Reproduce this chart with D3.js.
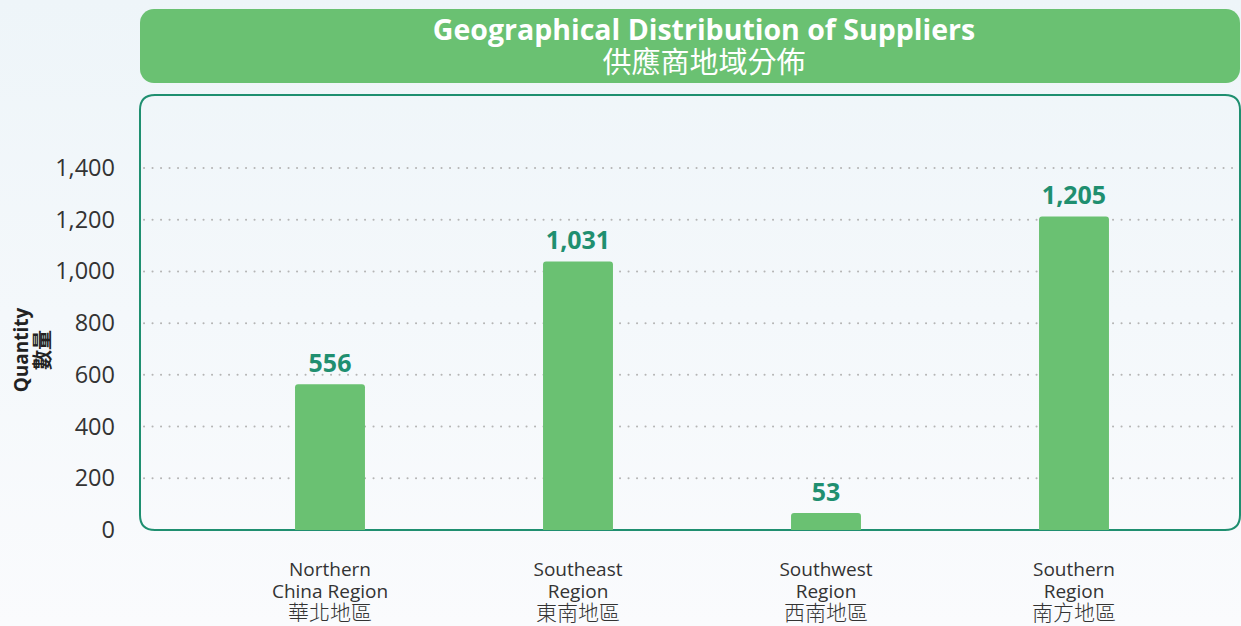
<!DOCTYPE html>
<meta charset="utf-8">
<style>
    body { margin: 0; background: #f7fafc; }
    svg { display: block; font-family: "Open Sans", "Noto Sans CJK TC", sans-serif; }
</style>
<svg width="1241" height="626"></svg>

<script src="https://d3js.org/d3.v7.min.js"></script>
<script>
    var categories = ["Northern China Region", "Southeast Region", "Southwest Region", "Southern Region"];
    var labelLines = [
        ["Northern", "China Region", "華北地區"],
        ["Southeast", "Region", "東南地區"],
        ["Southwest", "Region", "西南地區"],
        ["Southern", "Region", "南方地區"]
    ];
    var values = [556, 1031, 53, 1205];
    var yTicks = [0, 200, 400, 600, 800, 1000, 1200, 1400];

    var svg = d3.select("svg"),
        W = 1241,
        BOX_L = 140, BOX_R = 1240, BOX_T = 95, BOX_B = 530,
        GREEN = "#6ac172",
        TEAL = "#1f8f70",
        CJK = "'Noto Sans CJK TC', sans-serif";

    // background
    var defs = svg.append("defs");
    var grad = defs.append("linearGradient").attr("id", "bg")
        .attr("x1", 0).attr("y1", 0).attr("x2", 0).attr("y2", 1);
    grad.append("stop").attr("offset", "0%").attr("stop-color", "#eef5f9");
    grad.append("stop").attr("offset", "100%").attr("stop-color", "#fafbfd");
    svg.append("rect").attr("width", W).attr("height", 626).attr("fill", "url(#bg)");

    // title box
    svg.append("rect")
        .attr("x", BOX_L).attr("y", 9)
        .attr("width", BOX_R - BOX_L).attr("height", 74)
        .attr("rx", 14)
        .attr("fill", GREEN);
    svg.append("text")
        .attr("x", 704).attr("y", 40)
        .attr("text-anchor", "middle")
        .attr("font-size", 28.5).attr("font-weight", 700)
        .attr("fill", "#fff")
        .text("Geographical Distribution of Suppliers");
    svg.append("text")
        .attr("x", 704).attr("y", 73)
        .attr("text-anchor", "middle")
        .attr("font-size", 29)
        .attr("fill", "#fff")
        .style("font-family", CJK)
        .text("供應商地域分佈");

    var y = d3.scaleLinear().domain([0, 1400]).range([BOX_B, 168]);
    var x = d3.scaleBand()
        .domain(categories)
        .range([206, 1198])
        .paddingInner(0.718)
        .paddingOuter(0.359);

    // grid
    svg.append("g").selectAll("line")
        .data(yTicks.filter(function (d) { return d > 0; }))
        .enter().append("line")
        .attr("x1", BOX_L + 4).attr("x2", W)
        .attr("y1", function (d) { return y(d); })
        .attr("y2", function (d) { return y(d); })
        .attr("stroke", "#b5b5b5")
        .attr("stroke-width", 2)
        .attr("stroke-linecap", "round")
        .attr("stroke-dasharray", "0.1 8.4");

    // chart border
    var r = 15;
    svg.append("path")
        .attr("d", "M" + BOX_L + "," + (BOX_T + r) +
            "Q" + BOX_L + "," + BOX_T + " " + (BOX_L + r) + "," + BOX_T +
            "L" + (BOX_R - r) + "," + BOX_T +
            "Q" + BOX_R + "," + BOX_T + " " + BOX_R + "," + (BOX_T + r) +
            "L" + BOX_R + "," + (BOX_B - r) +
            "Q" + BOX_R + "," + BOX_B + " " + (BOX_R - r) + "," + BOX_B +
            "L" + (BOX_L + r) + "," + BOX_B +
            "Q" + BOX_L + "," + BOX_B + " " + BOX_L + "," + (BOX_B - r) + "Z")
        .attr("fill", "none")
        .attr("stroke", TEAL)
        .attr("stroke-width", 2);

    // y axis
    var yAxis = svg.append("g")
        .attr("transform", "translate(" + BOX_L + ",0)")
        .call(d3.axisLeft(y).tickValues(yTicks).tickFormat(d3.format(",")).tickSize(0).tickPadding(25));
    yAxis.select(".domain").remove();
    yAxis.selectAll("text")
        .attr("font-size", 23.5)
        .attr("fill", "#333")
        .style("font-family", "'Open Sans', sans-serif");

    // axis title
    var yt = svg.append("text")
        .attr("transform", "translate(28,350) rotate(-90)")
        .attr("text-anchor", "middle")
        .attr("fill", "#222");
    yt.append("tspan").attr("x", 0).attr("y", 0)
        .attr("font-size", 19).attr("font-weight", 700).text("Quantity");
    yt.append("tspan").attr("x", 0).attr("y", 22)
        .attr("font-size", 20).attr("font-weight", 700)
        .style("font-family", CJK).text("數量");

    // bars
    var bh = function (d) { return Math.max(BOX_B - y(d), 15) + 2; };
    svg.append("g").selectAll("path")
        .data(values)
        .enter().append("path")
        .attr("fill", GREEN)
        .attr("d", function (d, i) {
            var x0 = x(categories[i]), w = x.bandwidth(), top = BOX_B - bh(d), rr = 3;
            return "M" + x0 + "," + BOX_B +
                "L" + x0 + "," + (top + rr) +
                "Q" + x0 + "," + top + " " + (x0 + rr) + "," + top +
                "L" + (x0 + w - rr) + "," + top +
                "Q" + (x0 + w) + "," + top + " " + (x0 + w) + "," + (top + rr) +
                "L" + (x0 + w) + "," + BOX_B + "Z";
        });

    // value labels
    svg.append("g").selectAll("text")
        .data(values)
        .enter().append("text")
        .attr("x", function (d, i) { return x(categories[i]) + x.bandwidth() / 2; })
        .attr("y", function (d) { return BOX_B - bh(d) - 12; })
        .attr("text-anchor", "middle")
        .attr("font-size", 25).attr("font-weight", 700)
        .attr("fill", TEAL)
        .text(function (d) { return d3.format(",")(d); });

    // category labels
    var xl = svg.append("g").selectAll("text")
        .data(labelLines)
        .enter().append("text")
        .attr("text-anchor", "middle")
        .attr("font-size", 19)
        .attr("fill", "#333");
    xl.each(function (lines, i) {
        var t = d3.select(this), cx = x(categories[i]) + x.bandwidth() / 2;
        lines.forEach(function (s, j) {
            var sp = t.append("tspan").attr("x", cx).attr("y", 576 + j * 22).text(s);
            if (j === 2) sp.style("font-family", CJK).attr("font-size", 21).attr("font-weight", 300);
        });
    });
</script>
